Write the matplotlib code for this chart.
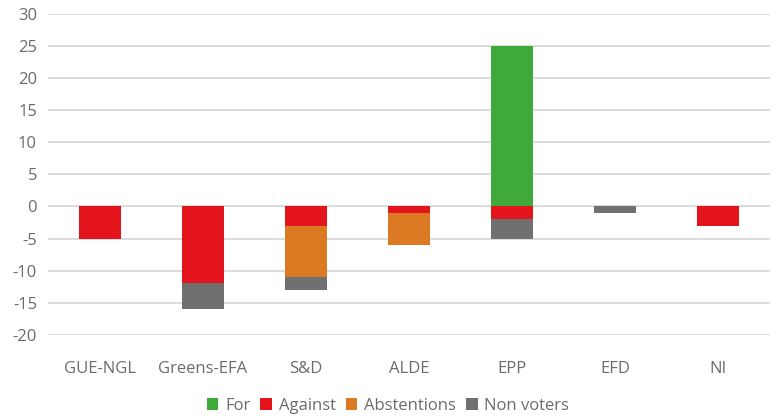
import numpy as np
import matplotlib.pyplot as plt

groups = ['GUE-NGL', 'Greens-EFA', 'S&D', 'ALDE', 'EPP', 'EFD', 'NI']
votes_for = [0, 0, 0, 0, 25, 0, 0]
against = [-5, -12, -3, -1, -2, 0, -3]
abstentions = [0, 0, -8, -5, 0, 0, 0]
non_voters = [0, -4, -2, 0, -3, -1, 0]

colors = {'For': '#3FAA3A', 'Against': '#E3141C',
          'Abstentions': '#DB7A22', 'Non voters': '#707070'}
text_color = '#6b6b6b'

plt.rcParams['font.family'] = ['Open Sans', 'DejaVu Sans']
plt.rcParams['axes.unicode_minus'] = False

fig = plt.figure(figsize=(7.76, 4.18), dpi=100)
ax = fig.add_axes([0.062, 0.199, 0.930, 0.768])

x = np.arange(len(groups))
w = 0.41
ag = np.array(against)
ab = np.array(abstentions)
nv = np.array(non_voters)

ax.bar(x, votes_for, w, color=colors['For'], label='For', zorder=3)
ax.bar(x, ag, w, color=colors['Against'], label='Against', zorder=3)
ax.bar(x, ab, w, bottom=ag, color=colors['Abstentions'], label='Abstentions', zorder=3)
ax.bar(x, nv, w, bottom=ag + ab, color=colors['Non voters'], label='Non voters', zorder=3)

ax.set_ylim(-20, 30)
ax.set_yticks(range(-20, 31, 5))
ax.set_xlim(-0.5, len(groups) - 0.5)
ax.set_xticks(x)
ax.set_xticklabels(groups)
ax.tick_params(axis='both', length=0, labelsize=12, colors=text_color)
ax.tick_params(axis='x', pad=19)
ax.tick_params(axis='y', pad=8)
ax.yaxis.grid(True, color='#d9d9d9', linewidth=1.3, zorder=0)
for s in ax.spines.values():
    s.set_visible(False)

leg = fig.legend(loc='center', bbox_to_anchor=(0.5, 12 / 418), ncol=4, frameon=False,
                 fontsize=12, handlelength=0.7, handleheight=0.7, handletextpad=0.4,
                 columnspacing=0.6, labelcolor=text_color)

fig.savefig('out.png', dpi=100)
